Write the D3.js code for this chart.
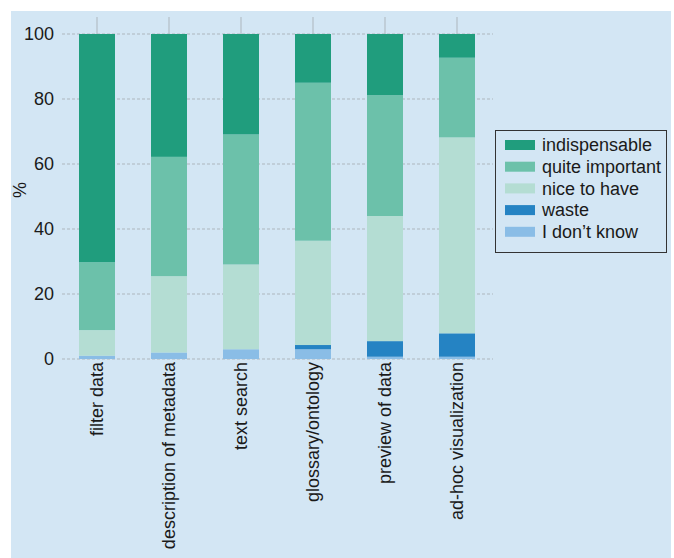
<!DOCTYPE html>
<html><head><meta charset="utf-8">
<script src="https://cdn.jsdelivr.net/npm/d3@7"></script>
<style>
html,body{margin:0;padding:0;background:#fff;}
svg{display:block;font-family:"Liberation Sans",Arial,sans-serif;}
</style></head>
<body>
<svg id="chart" width="674" height="558"></svg>
<script>
const categories = ["filter data","description of metadata","text search","glossary/ontology","preview of data","ad-hoc visualization"];
const seriesNames = ["I don\u2019t know","waste","nice to have","quite important","indispensable"];
const dontKnow      = [1, 2, 3, 3, 0.7, 0.7];
const waste         = [0, 0, 0, 1.3, 4.8, 7.2];
const niceToHave    = [7.9, 23.5, 26.1, 32.1, 38.5, 60.3];
const quiteImportant= [20.9, 36.7, 40, 48.6, 37.2, 24.5];
const indispensable = [70.2, 37.8, 30.9, 15, 18.8, 7.3];
const yTicks = [0, 20, 40, 60, 80, 100];
const colors = ["#8abde6","#2583c3","#b4ddd3","#6cc1aa","#209d7d"];
const legendOrder = ["indispensable","quite important","nice to have","waste","I don\u2019t know"];

const seriesValues = [dontKnow, waste, niceToHave, quiteImportant, indispensable];
const rows = categories.map((c,i)=>{
  const r = {cat:c};
  seriesNames.forEach((s,k)=> r[s]=seriesValues[k][i]);
  return r;
});
const stacked = d3.stack().keys(seriesNames)(rows);
const color = d3.scaleOrdinal().domain(seriesNames).range(colors);
const FS = 18;

const svg = d3.select("#chart");
svg.append("rect").attr("x",11).attr("y",11).attr("width",660).attr("height",547).attr("fill","#d3e6f4");

const x = d3.scaleBand().domain(categories).range([61,493]).paddingInner(0.5).paddingOuter(0.25);
const y = d3.scaleLinear().domain([0,100]).range([359,34]);

// gridlines
const g = svg.append("g");
g.selectAll("line.grid").data(yTicks).join("line")
  .attr("x1",62).attr("x2",493)
  .attr("y1",d=>y(d)).attr("y2",d=>y(d))
  .attr("stroke","#adb6bd").attr("stroke-width",1).attr("stroke-dasharray","3,2");

// top ticks
g.selectAll("line.tt").data(categories).join("line")
  .attr("x1",d=>x(d)+x.bandwidth()/2).attr("x2",d=>x(d)+x.bandwidth()/2)
  .attr("y1",17).attr("y2",34)
  .attr("stroke","#adb6bd").attr("stroke-width",1);

// bars
svg.append("g").selectAll("g").data(stacked).join("g")
  .attr("fill",d=>color(d.key))
  .selectAll("rect").data(d=>d).join("rect")
  .attr("x",d=>x(d.data.cat))
  .attr("width",x.bandwidth())
  .attr("y",d=>y(d[1]))
  .attr("height",d=>Math.max(0,y(d[0])-y(d[1])));

// y axis
const yAxis = d3.axisLeft(y).tickValues(yTicks).tickSize(0).tickPadding(0);
const ya = svg.append("g").attr("transform","translate(54,0)").call(yAxis);
ya.select(".domain").remove();
ya.selectAll("text").attr("font-size",FS).attr("fill","#1a1a1a").attr("font-family","Liberation Sans, Arial, sans-serif");

svg.append("text").attr("transform","translate(26,190) rotate(-90)")
  .attr("text-anchor","middle").attr("font-size",FS).attr("fill","#1a1a1a").text("%");

// x axis labels
const xAxis = d3.axisBottom(x).tickSize(0).tickPadding(0);
const xa = svg.append("g").attr("transform","translate(0,362)").call(xAxis);
xa.select(".domain").remove();
xa.selectAll("text")
  .attr("font-size",FS).attr("fill","#1a1a1a").attr("font-family","Liberation Sans, Arial, sans-serif")
  .attr("transform","rotate(-90)")
  .attr("text-anchor","end")
  .attr("x",0).attr("y",0).attr("dx",0).attr("dy","0.35em");

// legend
const lg = svg.append("g");
lg.append("rect").attr("x",495.5).attr("y",130.5).attr("width",171).attr("height",122)
  .attr("fill","none").attr("stroke","#333").attr("stroke-width",1);
const items = lg.selectAll("g.item").data(legendOrder).join("g")
  .attr("transform",(d,i)=>`translate(505,${145 + i*21.7})`);
items.append("rect").attr("x",0).attr("y",-5).attr("width",30).attr("height",10).attr("fill",d=>color(d));
items.append("text").attr("x",37).attr("y",0).attr("dy","0.35em")
  .attr("font-size",FS).attr("fill","#1a1a1a").text(d=>d);
</script>
</body></html>
